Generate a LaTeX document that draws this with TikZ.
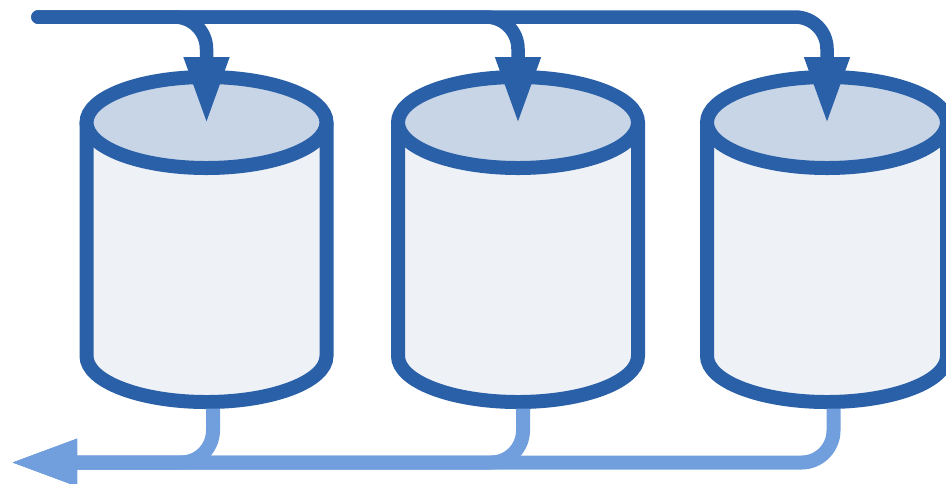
\documentclass[tikz,border=0pt]{standalone}
\usepackage{tikz}
\usetikzlibrary{positioning}
\usetikzlibrary{calc}
\usetikzlibrary{arrows.meta}

\definecolor{tankline}{HTML}{2A60A8}
\definecolor{tanktop}{HTML}{C8D5E6}
\definecolor{tankbody}{HTML}{EEF1F6}
\definecolor{outline}{HTML}{719EDD}

\tikzset{
    tank/.style={minimum width=4.8cm, minimum height=6.5cm, inner sep=0pt, outer sep=0pt},
    tankwall/.style={draw=tankline, fill=tankbody, line width=0.28cm},
    tankend/.style={draw=tankline, fill=tanktop, line width=0.28cm},
    inflow/.style={draw=tankline, line width=0.27cm, line cap=round, rounded corners=0.64cm,
        -{Triangle[length=1.34cm, width=0.84cm]}},
    outflow/.style={draw=outline, line width=0.28cm, rounded corners=0.64cm,
        -{Triangle[length=1.34cm, width=0.86cm]}},
}

\newcommand{\drawtank}[1]{
    \path [tankwall] ($(#1.north west)+(0,-0.91)$) -- ($(#1.south west)+(0,0.92)$)
        arc [start angle=180, end angle=360, x radius=2.4cm, y radius=0.92cm]
        -- ($(#1.north east)+(0,-0.91)$);
    \path [tankend] ($(#1.north)+(0,-0.91)$) ellipse [x radius=2.4cm, y radius=0.91cm];
}

\begin{document}
\begin{tikzpicture}
    \useasboundingbox (0,0) rectangle (18.92,-9.66);

    \node [tank] (tank1) at (4.13,-4.79) {};
    \node [tank, right=1.43cm of tank1] (tank2) {};
    \node [tank, right=1.38cm of tank2] (tank3) {};

    \drawtank{tank1}
    \drawtank{tank2}
    \drawtank{tank3}

    \coordinate (inlet) at (0.76,-0.34);
    \coordinate (outlet) at (0.2,-9.25);

    \draw [inflow] (inlet) -| ($(tank1.north)+(0,-0.94)$);
    \draw [inflow] (inlet) -| ($(tank2.north)+(0,-0.94)$);
    \draw [inflow] (inlet) -| ($(tank3.north)+(0,-0.94)$);

    \draw [outflow] ($(tank1.south)+(0.13,-0.13)$) |- (outlet);
    \draw [outflow] ($(tank2.south)+(0.10,-0.13)$) |- (outlet);
    \draw [outflow] ($(tank3.south)+(0.13,-0.13)$) |- (outlet);
\end{tikzpicture}
\end{document}
